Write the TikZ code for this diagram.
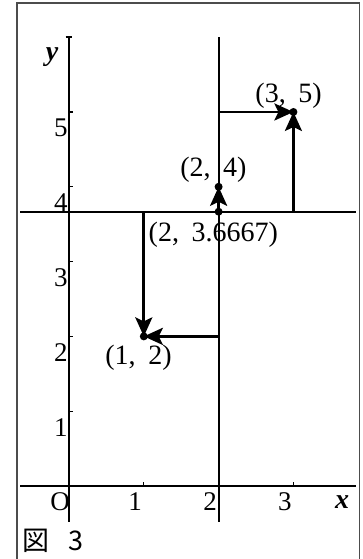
\documentclass[tikz,border=0pt]{standalone}
\usepackage{fontspec}
\setmainfont{Liberation Serif}
\newfontfamily\cjkfont{Noto Sans CJK JP}
\usetikzlibrary{arrows.meta}
\begin{document}
\begin{tikzpicture}[x=74.8pt,y=74.8pt,
  axisline/.style={line width=2.1pt},
  frameline/.style={line width=1.3pt, draw=black!70},
  pathline/.style={line width=2.8pt, -{Stealth[length=19pt,width=17pt,inset=4pt]}},
  ticklab/.style={font=\fontsize{27}{27}\selectfont, inner sep=0pt},
  ptlab/.style={font=\fontsize{28}{28}\selectfont, inner sep=0pt},
  dotmark/.style={fill=black, circle, inner sep=0pt, minimum size=8pt}]
\useasboundingbox (-0.9225,-0.976) rectangle (3.917,6.497);
% frame
\draw[frameline] (-0.695,-1.0) -- (-0.695,6.457) -- (3.884,6.457) -- (3.884,-1.0);
% axes and lines
\coordinate (xl) at (-0.653,0);
\coordinate (xr) at (3.84,0);
\coordinate (yb) at (0,-0.48);
\coordinate (yt) at (0,6);
\coordinate (vb) at (2,-0.48);
\coordinate (vt) at (2,6);
\coordinate (hl) at (-0.653,3.6667);
\coordinate (hr) at (3.84,3.6667);
\draw[axisline] (xl) -- (xr);
\draw[axisline] (yb) -- (yt);
\draw[axisline] (vb) -- (vt);
\draw[axisline] (hl) -- (hr);
\draw[line width=1.4pt] (-0.045,6) -- (0.045,6);
% ticks
\foreach \i in {1,2,3}{
  \draw[line width=1.2pt] (\i,0) -- (\i,0.06);
}
\foreach \j in {1,2,3,4,5}{
  \draw[line width=1.2pt] (0,\j) -- (0.06,\j);
}
% tick labels
\node[ticklab] (lO) at (-0.12,-0.214) {O};
\foreach \i in {1,2,3}{
  \node[ticklab] (lx\i) at (\i-0.115,-0.214) {\i};
}
\foreach \j in {1,2,3,4,5}{
  \node[ticklab] (ly\j) at (-0.11,\j-0.214) {\j};
}
\node[ptlab, font=\fontsize{28}{28}\selectfont\bfseries\itshape] (xlab) at (3.65,-0.21) {x};
\node[ptlab, font=\fontsize{28}{28}\selectfont\bfseries\itshape] (ylab) at (-0.227,5.735) {y};
% points
\coordinate (P35) at (3,5);
\coordinate (P24) at (2,4);
\coordinate (Q2) at (2,3.6667);
\coordinate (P12) at (1,2);
\coordinate (S3) at (3,3.6667);
\coordinate (S25) at (2,5);
\coordinate (S1) at (1,3.6667);
\coordinate (S22) at (2,2);
\draw[pathline] (S3) -- (P35);
\draw[pathline] (S25) -- (P35);
\draw[pathline] (Q2) -- (P24);
\draw[pathline] (S1) -- (P12);
\draw[pathline] (S22) -- (P12);
\node[dotmark] (d1) at (P35) {};
\node[dotmark] (d2) at (P24) {};
\node[dotmark] (d3) at (Q2) {};
\node[dotmark] (d4) at (P12) {};
% point labels
\node[ptlab] (l35) at (2.935,5.214) {(3,\hspace{0.45em}5)};
\node[ptlab] (l24) at (1.93,4.225) {(2,\hspace{0.45em}4)};
\node[ptlab] (lq) at (1.93,3.356) {(2,\hspace{0.45em}3.6667)};
\node[ptlab] (l12) at (0.929,1.711) {(1,\hspace{0.45em}2)};
% caption
\node[anchor=west, inner sep=0pt, font=\cjkfont\fontsize{27}{27}\selectfont] (cap) at (-0.628,-0.735) {図\hspace{0.72em}3};
\end{tikzpicture}
\end{document}
